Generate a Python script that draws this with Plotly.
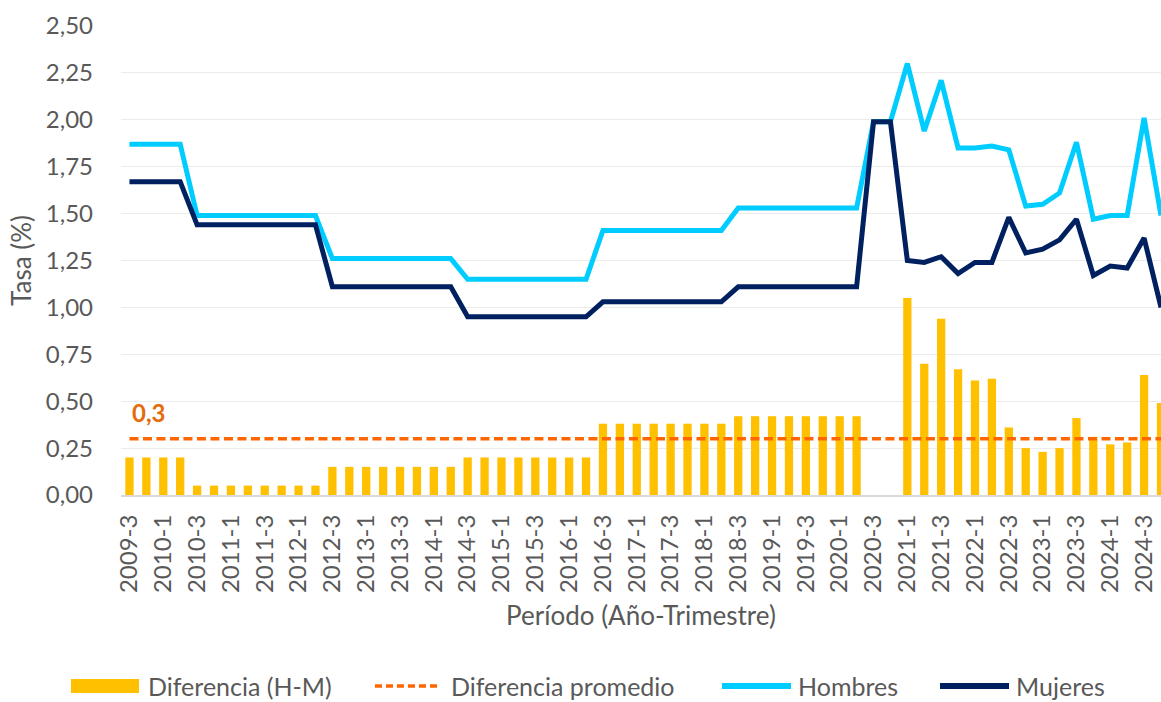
import plotly.graph_objects as go

PERIODOS = [
    "2009-3", "2009-4",
    "2010-1", "2010-2", "2010-3", "2010-4",
    "2011-1", "2011-2", "2011-3", "2011-4",
    "2012-1", "2012-2", "2012-3", "2012-4",
    "2013-1", "2013-2", "2013-3", "2013-4",
    "2014-1", "2014-2", "2014-3", "2014-4",
    "2015-1", "2015-2", "2015-3", "2015-4",
    "2016-1", "2016-2", "2016-3", "2016-4",
    "2017-1", "2017-2", "2017-3", "2017-4",
    "2018-1", "2018-2", "2018-3", "2018-4",
    "2019-1", "2019-2", "2019-3", "2019-4",
    "2020-1", "2020-2", "2020-3", "2020-4",
    "2021-1", "2021-2", "2021-3", "2021-4",
    "2022-1", "2022-2", "2022-3", "2022-4",
    "2023-1", "2023-2", "2023-3", "2023-4",
    "2024-1", "2024-2", "2024-3", "2024-4",
]

ETIQUETAS_X = [
    "2009-3", "2010-1", "2010-3", "2011-1", "2011-3", "2012-1", "2012-3",
    "2013-1", "2013-3", "2014-1", "2014-3", "2015-1", "2015-3", "2016-1",
    "2016-3", "2017-1", "2017-3", "2018-1", "2018-3", "2019-1", "2019-3",
    "2020-1", "2020-3", "2021-1", "2021-3", "2022-1", "2022-3", "2023-1",
    "2023-3", "2024-1", "2024-3",
]

HOMBRES = [
    1.87, 1.87, 1.87, 1.87,
    1.49, 1.49, 1.49, 1.49, 1.49, 1.49, 1.49, 1.49,
    1.26, 1.26, 1.26, 1.26, 1.26, 1.26, 1.26, 1.26,
    1.15, 1.15, 1.15, 1.15, 1.15, 1.15, 1.15, 1.15,
    1.41, 1.41, 1.41, 1.41, 1.41, 1.41, 1.41, 1.41,
    1.53, 1.53, 1.53, 1.53, 1.53, 1.53, 1.53, 1.53,
    1.99, 1.99,
    2.30, 1.94, 2.21, 1.85, 1.85, 1.86, 1.84, 1.54,
    1.55, 1.61, 1.88, 1.47, 1.49, 1.49, 2.01, 1.49,
]

MUJERES = [
    1.67, 1.67, 1.67, 1.67,
    1.44, 1.44, 1.44, 1.44, 1.44, 1.44, 1.44, 1.44,
    1.11, 1.11, 1.11, 1.11, 1.11, 1.11, 1.11, 1.11,
    0.95, 0.95, 0.95, 0.95, 0.95, 0.95, 0.95, 0.95,
    1.03, 1.03, 1.03, 1.03, 1.03, 1.03, 1.03, 1.03,
    1.11, 1.11, 1.11, 1.11, 1.11, 1.11, 1.11, 1.11,
    1.99, 1.99,
    1.25, 1.24, 1.27, 1.18, 1.24, 1.24, 1.48, 1.29,
    1.31, 1.36, 1.47, 1.17, 1.22, 1.21, 1.37, 1.00,
]

DIFERENCIA = [
    0.20, 0.20, 0.20, 0.20,
    0.05, 0.05, 0.05, 0.05, 0.05, 0.05, 0.05, 0.05,
    0.15, 0.15, 0.15, 0.15, 0.15, 0.15, 0.15, 0.15,
    0.20, 0.20, 0.20, 0.20, 0.20, 0.20, 0.20, 0.20,
    0.38, 0.38, 0.38, 0.38, 0.38, 0.38, 0.38, 0.38,
    0.42, 0.42, 0.42, 0.42, 0.42, 0.42, 0.42, 0.42,
    0.00, 0.00,
    1.05, 0.70, 0.94, 0.67, 0.61, 0.62, 0.36, 0.25,
    0.23, 0.25, 0.41, 0.31, 0.27, 0.28, 0.64, 0.49,
]

DIF_PROMEDIO = 0.3

C_BAR = "#FFC000"
C_PROM = "#FF6600"
C_PROM_TXT = "#E46C0A"
C_H = "#00CCFF"
C_M = "#002060"
C_TXT = "#595959"
FONT = "Lato"
FS_TICK = 24
FS = 26
FS_LEG = 25

W, H = 1161, 702
ML, MR, MT, MB = 121, 0, 26, 207

fig = go.Figure()
fig.add_trace(go.Bar(x=PERIODOS, y=DIFERENCIA, name="Diferencia (H-M)",
                     marker=dict(color=C_BAR, line=dict(width=0))))
fig.add_trace(go.Scatter(x=PERIODOS, y=[DIF_PROMEDIO] * len(PERIODOS),
                         name="Diferencia promedio", mode="lines",
                         line=dict(color=C_PROM, width=3.5, dash="9px,4.5px")))
fig.add_trace(go.Scatter(x=PERIODOS, y=HOMBRES, name="Hombres", mode="lines",
                         line=dict(color=C_H, width=5)))
fig.add_trace(go.Scatter(x=PERIODOS, y=MUJERES, name="Mujeres", mode="lines",
                         line=dict(color=C_M, width=5)))

# "0,3" label for average difference
fig.add_annotation(x=PERIODOS[0], y=DIF_PROMEDIO, xref="x", yref="y",
                   text="<b>0,3</b>", showarrow=False, xanchor="left",
                   yanchor="middle", xshift=1, yshift=26,
                   font=dict(family=FONT, size=FS_TICK, color=C_PROM_TXT))

# manual legend (pixel -> paper helpers)
PW = W - ML - MR
PH = H - MT - MB


def px(xp):
    return (xp - ML) / PW


def py(yp):
    return (H - MB - yp) / PH


LEG_Y = 686
shapes = []
shapes.append(dict(type="rect", xref="paper", yref="paper",
                   x0=px(71), x1=px(139), y0=py(LEG_Y + 7), y1=py(LEG_Y - 7),
                   fillcolor=C_BAR, line=dict(width=0)))
shapes.append(dict(type="line", xref="paper", yref="paper",
                   x0=px(375), x1=px(441), y0=py(LEG_Y), y1=py(LEG_Y),
                   line=dict(color=C_PROM, width=3.5, dash="7px,4px")))
shapes.append(dict(type="line", xref="paper", yref="paper",
                   x0=px(722), x1=px(791), y0=py(LEG_Y), y1=py(LEG_Y),
                   line=dict(color=C_H, width=6)))
shapes.append(dict(type="line", xref="paper", yref="paper",
                   x0=px(940), x1=px(1009), y0=py(LEG_Y), y1=py(LEG_Y),
                   line=dict(color=C_M, width=6)))
fig.update_layout(shapes=shapes)

for xt, wt, txt in [(146, 215, "Diferencia (H-M)"),
                    (449, 265, "Diferencia promedio"),
                    (796, 125, "Hombres"),
                    (1014, 125, "Mujeres")]:
    fig.add_annotation(x=px(xt), y=py(LEG_Y), xref="paper", yref="paper",
                       text=txt, showarrow=False, xanchor="left",
                       yanchor="middle", width=wt, align="left",
                       font=dict(family=FONT, size=FS_LEG, color=C_TXT))

fig.update_layout(
    width=W, height=H,
    margin=dict(l=ML, r=MR, t=MT, b=MB, pad=0),
    paper_bgcolor="white", plot_bgcolor="white",
    showlegend=False,
    bargap=0.51,
    separators=",.",
    font=dict(family=FONT, size=FS, color=C_TXT),
    xaxis=dict(
        type="category",
        categoryorder="array", categoryarray=PERIODOS,
        range=[-0.5, len(PERIODOS) - 1],
        tickmode="array", tickvals=ETIQUETAS_X, ticktext=ETIQUETAS_X,
        tickangle=-90, ticks="", showgrid=False,
        showline=True, linecolor="#D9D9D9", linewidth=2,
        tickfont=dict(family=FONT, size=FS_TICK, color=C_TXT),
        ticklabelstandoff=8,
        automargin=False,
        title=dict(text="Período (Año-Trimestre)", standoff=15,
                   font=dict(family=FONT, size=FS, color=C_TXT)),
    ),
    yaxis=dict(
        range=[0, 2.5], dtick=0.25, tick0=0, tickformat=".2f",
        showgrid=True, gridcolor="#EBEBEB", gridwidth=1.3,
        zeroline=False, showline=False, ticks="",
        tickfont=dict(family=FONT, size=FS_TICK, color=C_TXT),
        ticklabelstandoff=27,
        automargin=False,
        title=dict(text="Tasa (%)", standoff=6,
                   font=dict(family=FONT, size=FS, color=C_TXT)),
    ),
)

fig.write_html("out.html")
